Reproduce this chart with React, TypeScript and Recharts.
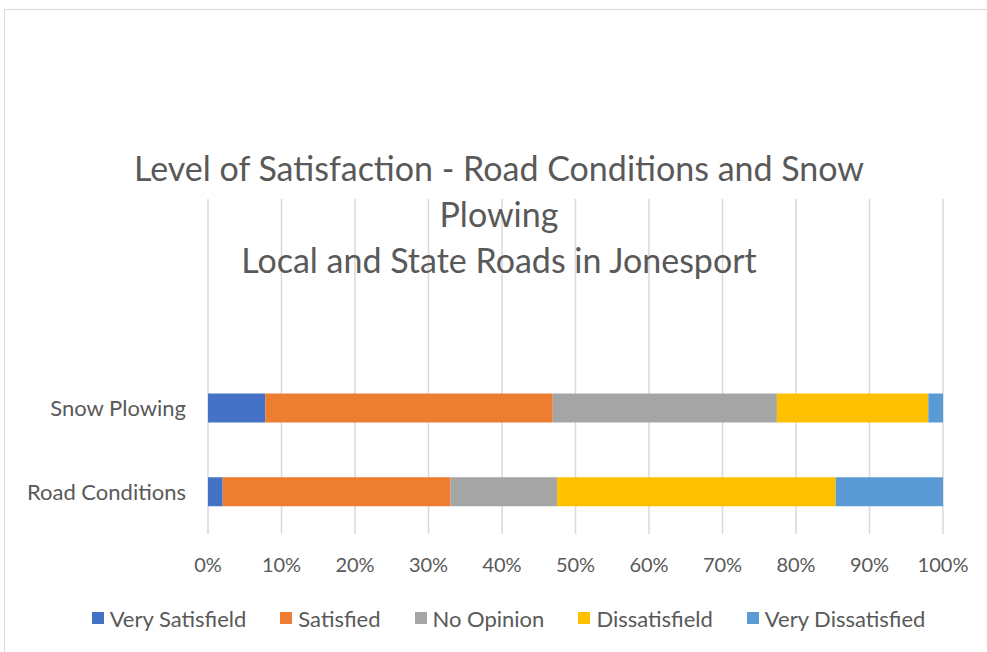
import React from "react";
import { BarChart, Bar, XAxis, YAxis, CartesianGrid, Legend } from "recharts";

// categories top to bottom; the two blanks are the empty rows above the bars
const categoryLabels = ["", "", "Snow Plowing", "Road Conditions"];

// percent of responses per category
const verySatisfied = [null, null, 7.8, 2.0];
const satisfied = [null, null, 39.1, 31.0];
const noOpinion = [null, null, 30.5, 14.5];
const dissatisfied = [null, null, 20.6, 37.9];
const veryDissatisfied = [null, null, 2.0, 14.6];

const xTicks = [0, 10, 20, 30, 40, 50, 60, 70, 80, 90, 100];

const seriesNames = ["Very Satisfield", "Satisfied", "No Opinion", "Dissatisfield", "Very Dissatisfied"];
const seriesColors = ["#4472C4", "#ED7D31", "#A5A5A5", "#FFC000", "#5B9BD5"];

const data = categoryLabels.map((label, i) => ({
    id: i,
    label,
    vs: verySatisfied[i],
    s: satisfied[i],
    no: noOpinion[i],
    d: dissatisfied[i],
    vd: veryDissatisfied[i],
}));
const keys = ["vs", "s", "no", "d", "vd"];

const TEXT = "#595959";
const FONT = "Lato, 'Open Sans', sans-serif";

const LegendContent = (props: any) => {
    // keep the series order, not alphabetical
    const payload = [...(props.payload || [])].sort(
        (a: any, b: any) => seriesNames.indexOf(a.value) - seriesNames.indexOf(b.value)
    );
    return (
        <div style={{ display: "flex", justifyContent: "center", height: 28, alignItems: "center", paddingLeft: 30 }}>
            {payload.map((p: any, i: number) => (
                <div
                    key={p.value}
                    style={{ display: "flex", alignItems: "center", marginRight: i === payload.length - 1 ? 0 : 34 }}
                >
                    <span style={{ width: 12, height: 12, background: p.color, display: "inline-block", marginRight: 6 }} />
                    <span style={{ fontSize: 22, color: TEXT, fontFamily: FONT }}>{p.value}</span>
                </div>
            ))}
        </div>
    );
};

const App: React.FC = () => {
    return (
        <div style={{ position: "fixed", left: 0, top: 0, width: 987, height: 652, overflow: "hidden", background: "#fff" }}>
            {/* chart frame */}
            <div style={{ position: "absolute", left: 4, top: 9, width: 1100, height: 800, border: "1.5px solid #d9d9d9" }} />

            <div style={{ position: "absolute", left: 0, top: 0 }}>
                <BarChart
                    width={987}
                    height={652}
                    data={data}
                    layout="vertical"
                    barSize={29}
                    margin={{ top: 199, right: 44, left: 8, bottom: 42 }}
                >
                    <CartesianGrid horizontal={false} stroke="#d9d9d9" strokeWidth={1.5} />
                    <XAxis
                        type="number"
                        domain={[0, 100]}
                        ticks={xTicks}
                        tickFormatter={(v) => `${v}%`}
                        axisLine={false}
                        tickLine={false}
                        tickSize={0}
                        tickMargin={24}
                        height={48}
                        interval={0}
                        tick={{ fontSize: 20, fill: TEXT, fontFamily: FONT }}
                    />
                    <YAxis
                        type="category"
                        dataKey="id"
                        tickFormatter={(i) => categoryLabels[i]}
                        axisLine={false}
                        tickLine={false}
                        tickSize={0}
                        tickMargin={22}
                        width={200}
                        interval={0}
                        tick={{ fontSize: 22, fill: TEXT, fontFamily: FONT }}
                    />
                    {keys.map((k, i) => (
                        <Bar
                            key={k}
                            dataKey={k}
                            name={seriesNames[i]}
                            stackId="a"
                            fill={seriesColors[i]}
                            isAnimationActive={false}
                        />
                    ))}
                    <Legend
                        verticalAlign="bottom"
                        content={<LegendContent />}
                        wrapperStyle={{ top: 604, left: 0, width: 987, height: 28 }}
                    />
                </BarChart>
            </div>

            {/* title sits over the gridlines like the original */}
            <div
                style={{
                    position: "absolute",
                    left: 0,
                    top: 145,
                    width: 998,
                    textAlign: "center",
                    fontFamily: FONT,
                    fontWeight: 400,
                    fontSize: 34,
                    lineHeight: "46px",
                    color: TEXT,
                    pointerEvents: "none",
                }}
            >
                <div style={{ width: 780, margin: "0 auto" }}>
                    Level of Satisfaction - Road Conditions and Snow
                    <br />
                    Plowing
                    <br />
                    Local and State Roads in Jonesport
                </div>
            </div>
        </div>
    );
};

export default App;
